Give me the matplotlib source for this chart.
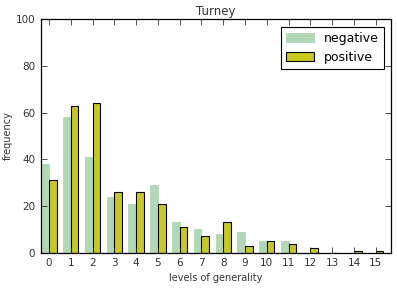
import matplotlib
matplotlib.use("Agg")
import matplotlib.pyplot as plt
import numpy as np

levels = list(range(16))
negative = [38, 58, 41, 24, 21, 29, 13, 10, 8, 9, 5, 5, 0, 0, 0, 0]
positive = [31, 63, 64, 26, 26, 21, 11, 7, 13, 3, 5, 4, 2, 0, 1, 1]

fig = plt.figure(figsize=(3.97, 2.88), dpi=100)
ax = fig.add_axes([0.103, 0.122, 0.882, 0.812])
x = np.array(levels)
w = 0.35
ax.bar(x - w, negative, w, align='edge', color='#b0d8b4', edgecolor='#b0d8b4', linewidth=0.6, label='negative')
ax.bar(x, positive, w, align='edge', color='#c8c820', edgecolor='black', linewidth=0.8, label='positive')
ax.set_xlim(-0.37, 15.7)
ax.set_ylim(0, 100)
ax.set_xticks(x)
ax.set_xticklabels([str(v) for v in levels])
ax.set_yticks([0, 20, 40, 60, 80, 100])
ax.tick_params(direction='in', top=True, right=True, labelsize=7.5, length=4, width=0.6, pad=4, colors='#333333', labelcolor='#333333')
for s in ax.spines.values():
    s.set_linewidth(0.9)
ax.set_title('Turney', fontsize=8.5, pad=3, color='#333333')
ax.set_xlabel('levels of generality', fontsize=7, color='#333333', labelpad=3)
ax.set_ylabel('frequency', fontsize=7, color='#333333', labelpad=2)
leg = ax.legend(loc='upper right', fontsize=9, fancybox=False, framealpha=1, edgecolor='black', borderaxespad=0.6, handlelength=2.2)
leg.get_frame().set_linewidth(0.8)
fig.savefig('out.png', dpi=100)
